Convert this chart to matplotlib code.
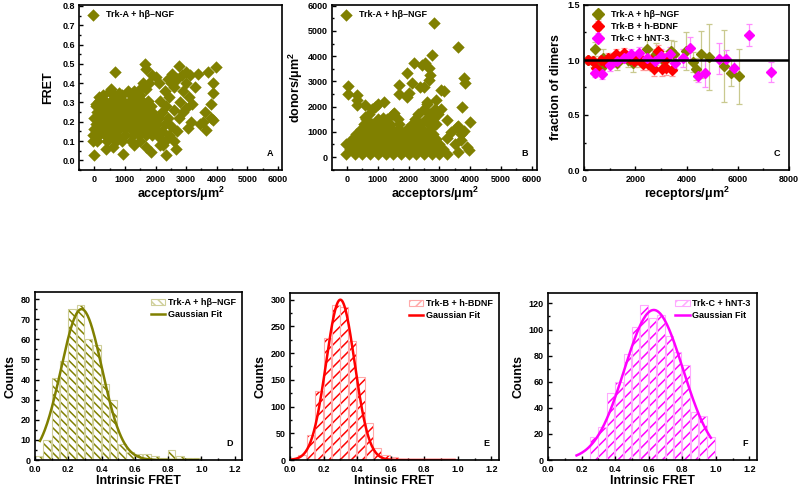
import numpy as np
import matplotlib
matplotlib.use('Agg')
import matplotlib.pyplot as plt
from matplotlib.ticker import MultipleLocator
from matplotlib.patches import Patch
from matplotlib.lines import Line2D

plt.rcParams['font.family'] = ['Liberation Sans', 'DejaVu Sans']
plt.rcParams['font.weight'] = 'bold'
plt.rcParams['axes.labelweight'] = 'bold'
plt.rcParams['mathtext.fontset'] = 'custom'
plt.rcParams['mathtext.bf'] = 'Liberation Sans:bold'
plt.rcParams['mathtext.rm'] = 'Liberation Sans:bold'
plt.rcParams['mathtext.default'] = 'bf'
plt.rcParams['hatch.linewidth'] = 1.1

OLIVE = '#808000'
RED = '#ff0000'
MAGENTA = '#ff00ff'

# ---------------- data ----------------
# panel A: FRET vs acceptor density (Trk-A + hbeta-NGF)
A_points = [
    (100, 0.10), (400, 0.10), (700, 0.10), (900, 0.10), (1200, 0.10), (1500, 0.10),
    (-50, 0.13), (150, 0.13), (350, 0.13), (550, 0.13), (750, 0.13), (1000, 0.13),
    (1250, 0.13), (1450, 0.13), (1700, 0.13), (1900, 0.13),
    (0, 0.16), (200, 0.16), (400, 0.16), (600, 0.16), (800, 0.16), (1000, 0.16),
    (1200, 0.16), (1400, 0.16), (1600, 0.16), (1800, 0.16), (2000, 0.16),
    (50, 0.19), (250, 0.19), (450, 0.19), (650, 0.19), (850, 0.19), (1050, 0.19),
    (1250, 0.19), (1450, 0.19), (1650, 0.19), (1850, 0.19), (2050, 0.19),
    (0, 0.22), (200, 0.22), (400, 0.22), (600, 0.22), (800, 0.22), (1000, 0.22),
    (1200, 0.22), (1400, 0.22), (1600, 0.22), (1800, 0.22), (2000, 0.22),
    (100, 0.25), (300, 0.25), (500, 0.25), (700, 0.25), (900, 0.25), (1100, 0.25),
    (1300, 0.25), (1500, 0.25), (1700, 0.25), (1900, 0.25),
    (50, 0.28), (250, 0.28), (450, 0.28), (650, 0.28), (850, 0.28), (1050, 0.28),
    (1250, 0.28), (1450, 0.28), (1650, 0.28), (1850, 0.28),
    (150, 0.31), (350, 0.31), (550, 0.31), (750, 0.31), (950, 0.31), (1150, 0.31),
    (1350, 0.31), (1550, 0.31), (1750, 0.31),
    (300, 0.34), (600, 0.34), (900, 0.34), (1200, 0.34), (1500, 0.34),
    (500, 0.36), (800, 0.35), (1100, 0.36), (1300, 0.36), (1500, 0.37), (1600, 0.40),
    (1700, 0.37), (1800, 0.40), (1900, 0.44), (2000, 0.43), (2100, 0.40),
    (2100, 0.12), (2200, 0.15), (2300, 0.10), (2450, 0.13), (2500, 0.18), (2200, 0.25),
    (2350, 0.28), (2450, 0.33), (2600, 0.38), (2700, 0.42), (2500, 0.40), (2300, 0.36),
    (2150, 0.31), (2800, 0.30), (2900, 0.25), (3000, 0.27), (2750, 0.22), (2600, 0.26),
    (2900, 0.36), (3000, 0.40), (2850, 0.44), (2550, 0.45), (2400, 0.42), (3100, 0.33),
    (3200, 0.29), (3300, 0.38), (3150, 0.20), (3050, 0.17), (2700, 0.15), (2600, 0.10),
    (2400, 0.22), (2300, 0.19), (2100, 0.22), (2150, 0.08), (1700, 0.07), (600, 0.07),
    (690, 0.46), (1640, 0.50), (1695, 0.475), (2750, 0.49), (3005, 0.46), (3115, 0.44),
    (3390, 0.45), (3715, 0.46), (3990, 0.485), (3880, 0.40), (3880, 0.35), (3825, 0.29),
    (3605, 0.25), (3800, 0.22), (3880, 0.21), (3550, 0.20), (3660, 0.155), (3450, 0.19),
    (2680, 0.06), (2240, 0.08), (1860, 0.045), (930, 0.035), (0, 0.03), (2350, 0.03),
    (380, 0.06), (-50, 0.10), (55, 0.29), (550, 0.37), (165, 0.33), (1300, 0.08),
]

# panel B: donor vs acceptor density
B_points = [
    (-50, 100), (250, 100), (500, 100), (750, 100), (1000, 100), (1250, 100), (1500, 100),
    (1750, 100), (2000, 100), (2250, 100), (2500, 100), (2750, 100), (3000, 100), (3250, 100),
    (100, 300), (350, 300), (600, 300), (850, 300), (1100, 300), (1350, 300), (1600, 300),
    (1850, 300), (2100, 300), (2350, 300), (2600, 300), (2850, 300), (3100, 300),
    (-50, 500), (250, 500), (500, 500), (750, 500), (1000, 500), (1250, 500), (1500, 500),
    (1750, 500), (2000, 500), (2250, 500), (2500, 500), (2750, 500), (3000, 500),
    (150, 700), (400, 700), (650, 700), (900, 700), (1150, 700), (1400, 700), (1650, 700),
    (1900, 700), (2150, 700), (2400, 700), (2650, 700), (2900, 700),
    (300, 900), (550, 900), (800, 900), (1050, 900), (1300, 900), (1550, 900), (1800, 900),
    (2050, 900), (2300, 900), (2550, 900), (2800, 900),
    (450, 1100), (700, 1100), (950, 1100), (1200, 1100), (1450, 1100), (1700, 1100),
    (1950, 1100), (2200, 1100), (2450, 1100), (2700, 1100),
    (550, 1300), (800, 1300), (1100, 1300), (1400, 1300), (1700, 1300), (2100, 1300),
    (2400, 1300), (2650, 1300), (2900, 1300),
    (600, 1500), (1000, 1500), (1300, 1500), (1650, 1500), (2200, 1500), (2550, 1500), (2800, 1500),
    (700, 1700), (1500, 1700), (2300, 1700), (2700, 1700), (2950, 1700),
    (800, 1900), (2500, 1900), (2850, 1900), (3050, 1900), (1000, 2100), (2600, 2100),
    (2900, 2250), (2600, 2200),
    (2815, 5300), (3595, 4350), (2760, 4050), (2165, 3720), (2435, 3650), (2545, 3720),
    (2650, 3520), (1950, 3320), (2705, 3250), (2650, 3050), (2380, 2790), (2490, 2790),
    (2110, 2920), (1680, 2860), (1680, 2490), (2000, 2530), (1950, 2400), (1190, 2200),
    (325, 2460), (325, 2260), (325, 2060), (30, 2830), (30, 2490), (595, 2060), (580, 1600),
    (920, 2000), (1515, 1740), (1160, 1540), (3050, 2660), (3160, 2620), (3790, 3150),
    (3840, 2920), (3730, 2000), (4000, 1400), (3245, 1470), (3600, 1250), (3800, 1050),
    (3560, 1200), (3370, 1000), (3235, 735), (3710, 670), (3880, 400), (3960, 270),
    (3590, 200), (3500, 500), (3700, 900),
]

# panel C: fraction of dimers vs receptor density (x, y, error)
C_trkA = [
    (150, 1.00, 0.03), (350, 0.99, 0.05), (442, 1.10, 0.06), (600, 0.95, 0.05),
    (676, 0.93, 0.06), (741, 1.02, 0.08), (950, 0.99, 0.05), (1100, 1.00, 0.06),
    (1287, 0.97, 0.06), (1500, 1.02, 0.05), (1700, 1.00, 0.06), (1911, 0.97, 0.08),
    (2150, 1.01, 0.07), (2458, 1.10, 0.08), (2650, 1.00, 0.10), (2821, 1.05, 0.10),
    (3100, 1.00, 0.08), (3407, 1.08, 0.10), (3500, 1.05, 0.12), (3966, 1.08, 0.17),
    (4252, 0.98, 0.09), (4382, 0.92, 0.10), (4577, 1.05, 0.21), (4877, 1.03, 0.30),
    (5460, 0.945, 0.33), (5735, 0.884, 0.12), (6047, 0.854, 0.25),
]
C_trkB = [
    (156, 1.00, 0.04), (350, 0.99, 0.04), (481, 0.93, 0.05), (650, 1.00, 0.04),
    (806, 0.98, 0.04), (950, 1.02, 0.04), (1066, 1.006, 0.05), (1261, 1.05, 0.05),
    (1400, 1.02, 0.04), (1547, 1.06, 0.05), (1650, 1.03, 0.04), (1781, 1.006, 0.05),
    (1950, 0.99, 0.05), (2067, 1.006, 0.05), (2200, 1.02, 0.05), (2302, 0.96, 0.05),
    (2497, 0.96, 0.05), (2600, 1.00, 0.05), (2731, 0.915, 0.06), (2887, 1.08, 0.06),
    (3056, 0.915, 0.06), (3150, 1.00, 0.06), (3212, 0.93, 0.07), (3450, 0.91, 0.06),
]
C_trkC = [
    (442, 0.884, 0.04), (715, 0.87, 0.04), (1001, 0.95, 0.05), (1300, 0.99, 0.05),
    (1550, 1.02, 0.04), (1846, 1.05, 0.05), (2132, 1.067, 0.05), (2458, 1.02, 0.06),
    (2757, 0.99, 0.05), (3017, 1.037, 0.06), (3342, 1.05, 0.07), (3563, 0.975, 0.06),
    (3862, 1.02, 0.08), (4122, 1.11, 0.10), (4447, 0.854, 0.05), (4707, 0.878, 0.12),
    (5267, 1.012, 0.14), (5553, 1.012, 0.08), (5839, 0.93, 0.07), (6424, 1.226, 0.10),
    (7295, 0.893, 0.09),
]

# panels D-F: intrinsic FRET histograms (bin start, count) and Gaussian fit params
D_bins = [0.0, 0.05, 0.1, 0.15, 0.2, 0.25, 0.3, 0.35, 0.4, 0.45, 0.5, 0.55, 0.6, 0.65,
          0.7, 0.75, 0.8, 0.85, 0.9, 0.95]
D_counts = [2, 10, 41, 49, 75, 77, 60, 57, 38, 30, 8, 4, 3, 3, 2, 1, 5, 2, 1, 1]
D_fit = dict(amp=75, mu=0.28, sigma=0.123, lo=0.03, hi=0.98)

E_bins = D_bins
E_counts = [4, 9, 47, 130, 228, 290, 287, 222, 155, 70, 22, 10, 5, 2, 1, 1, 1, 1, 1, 1]
E_fit = dict(amp=300, mu=0.30, sigma=0.085, lo=0.0, hi=0.98)

F_bins = D_bins
F_counts = [0, 0, 0, 1, 1, 18, 25, 51, 60, 81, 102, 119, 109, 111, 95, 83, 73, 37, 34, 18]
F_fit = dict(amp=115, mu=0.63, sigma=0.174, lo=0.17, hi=0.97)

# ---------------- figure ----------------
W, H = 800, 491
fig = plt.figure(figsize=(8, 4.91), dpi=100)


def add_ax(x0, y0, x1, y1):
    # pixel box (left, top, right, bottom) -> figure fraction
    return fig.add_axes([x0 / W, 1 - y1 / H, (x1 - x0) / W, (y1 - y0) / H])


def style(ax, xmaj, ymaj):
    ax.xaxis.set_major_locator(MultipleLocator(xmaj))
    ax.xaxis.set_minor_locator(MultipleLocator(xmaj / 2))
    ax.yaxis.set_major_locator(MultipleLocator(ymaj))
    ax.yaxis.set_minor_locator(MultipleLocator(ymaj / 2))
    ax.tick_params(which='both', direction='in', top=False, right=False,
                   labelsize=6.5, width=1)
    ax.tick_params(axis='x', pad=3.5)
    ax.tick_params(axis='y', pad=3)
    ax.tick_params(which='major', length=3)
    ax.tick_params(which='minor', length=1.5)
    for s in ax.spines.values():
        s.set_linewidth(1.2)
    for lab in ax.get_xticklabels() + ax.get_yticklabels():
        lab.set_fontweight('bold')


def letter(ax, s):
    ax.text(0.955, 0.07, s, transform=ax.transAxes, ha='right', va='bottom',
            fontsize=6.5, fontweight='bold')


# --- A ---
axA = add_ax(79, 5, 282, 170)
ax_, ay_ = zip(*A_points)
axA.scatter(ax_, ay_, marker='D', s=40, color=OLIVE, linewidths=0, label='Trk-A + hβ–NGF')
axA.set_xlim(-500, 6130)
axA.set_ylim(-0.05, 0.805)
style(axA, 1000, 0.1)
axA.set_xlabel('acceptors/μm$^2$', fontsize=9, labelpad=1)
axA.set_ylabel('FRET', fontsize=9, labelpad=6)
axA.legend(loc='upper left', frameon=False, fontsize=6.5, handletextpad=0.4,
           borderaxespad=0.2, scatterpoints=1, markerscale=1.0)
letter(axA, 'A')

# --- B ---
axB = add_ax(332, 5, 537, 170)
bx, by = zip(*B_points)
axB.scatter(bx, by, marker='D', s=40, color=OLIVE, linewidths=0, label='Trk-A + hβ–NGF')
axB.set_xlim(-490, 6170)
axB.set_ylim(-515, 6030)
style(axB, 1000, 1000)
axB.set_xlabel('acceptors/μm$^2$', fontsize=9, labelpad=1)
axB.set_ylabel('donors/μm$^2$', fontsize=9, labelpad=2)
axB.legend(loc='upper left', frameon=False, fontsize=6.5, handletextpad=0.4,
           borderaxespad=0.2, scatterpoints=1, markerscale=1.0)
letter(axB, 'B')

# --- C ---
axC = add_ax(584, 5, 789, 170)
for pts, col, ecol, lab in [(C_trkA, OLIVE, '#c9c98f', 'Trk-A + hβ–NGF'),
                            (C_trkB, RED, '#ff9a9a', 'Trk-B + h-BDNF'),
                            (C_trkC, MAGENTA, '#ff8cff', 'Trk-C + hNT-3')]:
    cx, cy, ce = zip(*pts)
    axC.errorbar(cx, cy, yerr=ce, fmt='D', ms=5, color=col, mec=col, ecolor=ecol,
                 elinewidth=0.9, capsize=2, capthick=0.9, label=lab)
axC.axhline(1.0, color='black', lw=1.8, zorder=10)
axC.set_xlim(0, 8000)
axC.set_ylim(0, 1.5)
style(axC, 2000, 0.5)
axC.set_xlabel('receptors/μm$^2$', fontsize=9, labelpad=1)
axC.set_ylabel('fraction of dimers', fontsize=9, labelpad=4)
axC.legend(loc='upper left', frameon=False, fontsize=6.5, handletextpad=0.4,
           borderaxespad=0.2, labelspacing=0.3, markerscale=1.2)
letter(axC, 'C')


# --- D, E, F histograms ---
def hist_panel(box, bins, counts, fit, col, light, hatch, ylim, ymaj, lab, xlab, let):
    ax = add_ax(*box)
    ax.bar(bins, counts, width=0.045, align='edge', facecolor='none', edgecolor=col,
           linewidth=0, hatch=hatch)
    ax.bar(bins, counts, width=0.045, align='edge', facecolor='none', edgecolor=light,
           linewidth=0.8)
    xf = np.linspace(fit['lo'], fit['hi'], 200)
    yf = fit['amp'] * np.exp(-(xf - fit['mu']) ** 2 / (2 * fit['sigma'] ** 2))
    ax.plot(xf, yf, color=col, lw=1.8)
    ax.set_xlim(0, 1.245)
    ax.set_ylim(0, ylim)
    style(ax, 0.2, ymaj)
    ax.set_xlabel(xlab, fontsize=9, labelpad=1)
    ax.set_ylabel('Counts', fontsize=9, labelpad=3)
    handles = [Patch(facecolor='none', edgecolor=light, hatch=hatch, linewidth=0.8),
               Line2D([], [], color=col, lw=1.8)]
    ax.legend(handles, [lab, 'Gaussian Fit'], loc='upper right', frameon=False,
              fontsize=6.5, handlelength=1.6, handleheight=0.6, handletextpad=0.3,
              borderaxespad=0.3, labelspacing=0.3)
    letter(ax, let)
    return ax


hist_panel((35, 292, 242, 460), D_bins, D_counts, D_fit, OLIVE, '#cfcf9a', '\\\\\\\\',
           83.5, 10, 'Trk-A + hβ–NGF', 'Intrinsic FRET', 'D')
hist_panel((290, 293, 499, 460), E_bins, E_counts, E_fit, RED, '#ffaaaa', '///',
           312.5, 50, 'Trk-B + h-BDNF', 'Intinsic FRET', 'E')
hist_panel((548, 293, 757, 460), F_bins, F_counts, F_fit, MAGENTA, '#ffaaff', '///',
           128, 20, 'Trk-C + hNT-3', 'Intrinsic FRET', 'F')

plt.savefig('out.png', dpi=100)
